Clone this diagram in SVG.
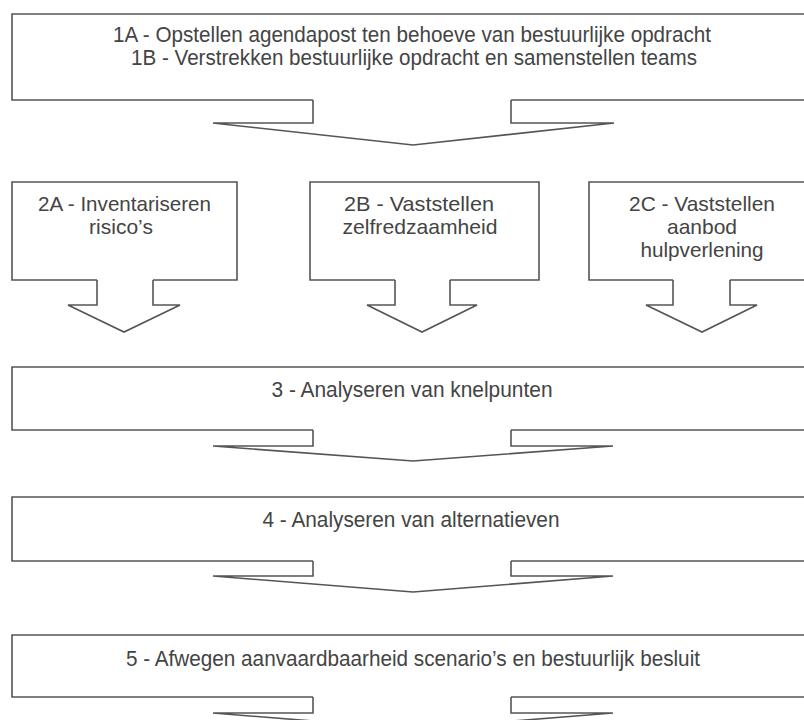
<svg xmlns="http://www.w3.org/2000/svg" width="804" height="720" viewBox="0 0 804 720">
<style>
.box{fill:none;stroke:#555;stroke-width:1.6;stroke-linejoin:miter}
.arr{fill:none;stroke:#555;stroke-width:1.6;stroke-linejoin:miter}
.t{font-family:"Liberation Sans",Arial,sans-serif;font-size:22px;fill:#444;text-anchor:middle}
.s{font-family:"Liberation Sans",Arial,sans-serif;font-size:21px;fill:#444;text-anchor:middle}
</style>
<rect width="804" height="720" fill="#fff"/>
<g id="node-1">
<path class="box" d="M313,100 H12 V14 H812 V100 H511"/>
<text class="t" x="412" y="42" textLength="598" lengthAdjust="spacingAndGlyphs">1A - Opstellen agendapost ten behoeve van bestuurlijke opdracht</text>
<text class="t" x="414" y="65" textLength="566" lengthAdjust="spacingAndGlyphs">1B - Verstrekken bestuurlijke opdracht en samenstellen teams</text>
</g>
<g id="node-2a">
<path class="box" d="M97,280 H12 V182 H237 V280 H153"/>
<text class="s" x="124.5" y="211" textLength="173" lengthAdjust="spacingAndGlyphs">2A - Inventariseren</text>
<text class="s" x="121" y="234">risico’s</text>
</g>
<g id="node-2b">
<path class="box" d="M395,280 H310 V182 H539 V280 H450"/>
<text class="s" x="419" y="211" textLength="150" lengthAdjust="spacingAndGlyphs">2B - Vaststellen</text>
<text class="s" x="420" y="234" textLength="155" lengthAdjust="spacingAndGlyphs">zelfredzaamheid</text>
</g>
<g id="node-2c">
<path class="box" d="M673,280 H589 V182 H815 V280 H730"/>
<text class="s" x="702" y="211" textLength="146" lengthAdjust="spacingAndGlyphs">2C - Vaststellen</text>
<text class="s" x="702" y="234">aanbod</text>
<text class="s" x="702" y="257" textLength="123" lengthAdjust="spacingAndGlyphs">hulpverlening</text>
</g>
<g id="node-3">
<path class="box" d="M313,430 H12 V367 H812 V430 H511"/>
<text class="t" x="412" y="397" textLength="281" lengthAdjust="spacingAndGlyphs">3 - Analyseren van knelpunten</text>
</g>
<g id="node-4">
<path class="box" d="M313,561 H12 V497 H812 V561 H511"/>
<text class="t" x="411" y="527" textLength="297" lengthAdjust="spacingAndGlyphs">4 - Analyseren van alternatieven</text>
</g>
<g id="node-5">
<path class="box" d="M313,697 H12 V635 H812 V697 H511"/>
<text class="t" x="413" y="666" textLength="574" lengthAdjust="spacingAndGlyphs">5 - Afwegen aanvaardbaarheid scenario’s en bestuurlijk besluit</text>
</g>
<g id="connectors">
<path class="arr" d="M313,100 V123 H213 L413,145 L614,123 H511 V100"/>
<path class="arr" d="M97,280 V305 H68 L124,332 L180,305 H153 V280"/>
<path class="arr" d="M395,280 V305 H367 L422,332 L477,305 H450 V280"/>
<path class="arr" d="M673,280 V305 H646 L702,332 L757,305 H730 V280"/>
<path class="arr" d="M313,430 V446 H213 L413,461 L613,446 H511 V430"/>
<path class="arr" d="M313,561 V576 H213 L413,592 L613,576 H511 V561"/>
<path class="arr" d="M313,697 V713 H213 L413,729 L613,713 H511 V697"/>
</g>
</svg>
